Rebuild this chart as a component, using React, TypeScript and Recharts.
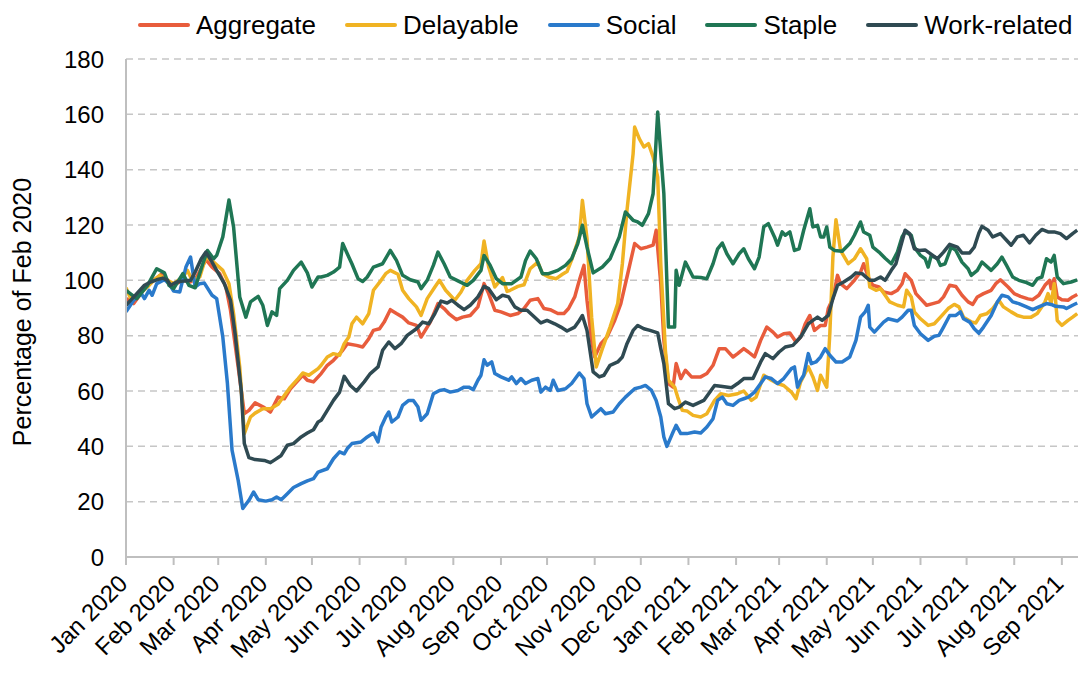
import React from "react";
import { LineChart, Line, XAxis, YAxis, CartesianGrid, Legend } from "recharts";

// [day since 1 Jan 2020, % of Feb 2020]
type Pt = [number, number];

const aggregate: Pt[] = [
  [0, 93.4], [5, 91.6], [12, 97], [18, 100], [23, 102.2], [27, 100], [31, 98.2], [37, 100], [42, 99.4],
  [46, 101.2], [52, 107.5], [56, 104.8], [61, 102.4], [65, 97.6], [68, 89.2], [73, 68.7], [77, 51.8],
  [80, 53], [84, 55.7], [90, 54], [94, 52.4], [99, 57.8], [103, 57.2], [107, 60.8], [112, 63.9],
  [115, 65.7], [118, 63.9], [122, 63.3], [127, 66.3], [131, 69.3], [135, 71.1], [141, 74.7], [144, 77.1],
  [150, 76.5], [154, 75.9], [158, 78.9], [161, 81.9], [165, 82.5], [168, 84.9], [172, 89.4], [176, 88],
  [180, 86.7], [184, 84.6], [189, 83.7], [192, 79.5], [195, 82.2], [198, 84.9], [203, 91.6], [207, 89.8],
  [210, 88], [215, 85.8], [219, 86.7], [224, 87.3], [229, 90.4], [233, 98.8], [236, 95.2], [240, 89.2],
  [244, 88.6], [250, 87.3], [255, 88], [259, 89.8], [263, 92.8], [268, 93.4], [272, 89.8], [276, 89.4],
  [281, 88], [285, 88], [288, 89.8], [292, 94], [295, 100], [298, 105.4], [300, 92.8], [303, 78.3],
  [305, 72.3], [309, 77.1], [313, 79.5], [318, 85.5], [322, 91.6], [326, 101.2], [331, 113.3], [335, 111.4],
  [339, 112], [343, 112.7], [345, 118.1], [348, 98.8], [350, 78.3], [353, 62.7], [356, 61.4], [358, 69.9],
  [361, 64.5], [364, 67.5], [368, 65.1], [374, 65.1], [378, 66.3], [382, 69.3], [386, 75.3], [390, 75.3],
  [395, 72.3], [398, 73.5], [402, 75.3], [405, 74.1], [409, 72.3], [413, 78.3], [417, 83.1], [421, 81.3],
  [424, 79.5], [428, 80.7], [432, 81], [436, 77.7], [439, 79.5], [442, 84.3], [445, 87.3], [448, 81.9],
  [452, 83.7], [455, 83.7], [457, 89.8], [460, 93.4], [463, 101.8], [465, 98.8], [469, 97], [474, 100],
  [478, 103], [480, 106], [483, 101.2], [486, 98.2], [490, 97.6], [493, 95.8], [498, 95.2], [502, 96.4],
  [505, 98.8], [507, 102.4], [511, 100], [514, 95.2], [517, 93.4], [521, 91], [525, 91.6], [529, 92.2],
  [532, 94], [536, 98.2], [540, 97.8], [544, 94.6], [548, 92.2], [551, 91.3], [554, 94], [558, 95.2],
  [563, 96.4], [566, 98.8], [569, 100.2], [574, 97.6], [578, 95.2], [582, 94.2], [587, 93.3], [590, 93],
  [594, 94.6], [598, 98.2], [601, 100], [602, 97], [604, 100.6], [606, 94], [609, 93], [613, 92.8],
  [616, 94], [619, 94.9],
];

const delayable: Pt[] = [
  [0, 97.3], [3, 93.4], [9, 95.2], [14, 97.6], [18, 100], [22, 101.8], [27, 100], [31, 98.8], [37, 101.2],
  [40, 103.6], [43, 100], [48, 101.2], [52, 108.4], [57, 106.6], [63, 103.6], [67, 98.8], [70, 88],
  [74, 68.7], [77, 44.6], [81, 50.6], [84, 52], [89, 53.6], [94, 53.6], [99, 55.2], [103, 58.4],
  [107, 61.4], [112, 64.5], [115, 66.5], [119, 65.7], [125, 68.1], [127, 69.3], [131, 72.3], [135, 73.5],
  [139, 72.9], [142, 77.1], [145, 79.5], [147, 84.3], [150, 86.7], [154, 84.3], [158, 88], [161, 96.4],
  [166, 100], [169, 102.4], [172, 103.6], [177, 102.2], [180, 96.4], [184, 93.4], [189, 90.4], [192, 87.3],
  [196, 93.4], [201, 97.6], [204, 100], [208, 96.4], [214, 92.8], [218, 95.8], [222, 100], [227, 103.6],
  [231, 106], [233, 114.2], [236, 104.8], [240, 97.6], [245, 101], [248, 96], [250, 96.4], [255, 97.8],
  [259, 98.4], [263, 104.2], [268, 106.6], [271, 102.4], [275, 101.2], [280, 100.6], [284, 102.2],
  [287, 103.2], [290, 107.4], [295, 115.7], [297, 128.9], [300, 115], [303, 86.7], [306, 68.7], [310, 75.3],
  [315, 83.1], [320, 91.6], [323, 106], [326, 125.3], [330, 145.8], [331, 155.4], [334, 151.2], [337, 148.2],
  [340, 149.4], [343, 144.6], [346, 137.3], [348, 106], [351, 74.7], [353, 63.9], [357, 61.4], [359, 57.8],
  [362, 53], [365, 52.8], [369, 51.2], [374, 50.6], [378, 51.8], [383, 56.6], [387, 59], [392, 58.4],
  [398, 59], [402, 60], [407, 56.6], [410, 57.8], [415, 65.7], [420, 63.9], [424, 62.7], [428, 62],
  [433, 59.6], [436, 57.2], [439, 63.3], [444, 68.7], [447, 65.1], [450, 60.2], [452, 65.7], [456, 61.4],
  [458, 80.7], [460, 108.4], [462, 121.9], [465, 110.8], [470, 106], [474, 107.8], [478, 111.4],
  [482, 107.8], [484, 97.6], [488, 96.4], [491, 97], [494, 94.6], [497, 92.2], [502, 91], [506, 90.4],
  [508, 96.4], [511, 94], [513, 88.6], [517, 86.1], [522, 83.7], [526, 84.3], [530, 86.7], [535, 89.8],
  [539, 91.3], [542, 90.4], [545, 86.7], [550, 85], [553, 84.6], [556, 87.3], [560, 87.9], [564, 89.8],
  [568, 92.8], [571, 90.4], [576, 88.6], [580, 87.3], [584, 86.7], [589, 86.7], [593, 88], [598, 92.2],
  [600, 95.2], [602, 91.6], [604, 98.8], [606, 85.5], [609, 83.7], [613, 85.5], [616, 86.7], [619, 88],
];

const social: Pt[] = [
  [0, 88.6], [5, 92.8], [10, 95.2], [12, 93.4], [15, 96.4], [17, 94.6], [20, 98.8], [25, 100.2], [28, 98.8],
  [31, 96.1], [35, 95.8], [39, 104.8], [42, 108.4], [45, 97.6], [48, 98.8], [51, 99], [56, 94.6],
  [59, 93.4], [63, 79.5], [66, 62.7], [69, 38.6], [73, 27.7], [76, 17.5], [80, 20.5], [83, 23.5],
  [86, 20.7], [91, 20.2], [95, 20.7], [98, 21.7], [101, 20.7], [105, 22.9], [109, 25.1], [114, 26.5],
  [118, 27.5], [122, 28.3], [125, 30.7], [131, 31.9], [135, 35.5], [139, 38], [142, 37.3], [144, 39.2],
  [147, 41], [153, 41.6], [157, 43.4], [161, 44.8], [164, 41.6], [166, 47], [169, 50.6], [171, 52.4],
  [173, 48.8], [177, 50.6], [180, 54.8], [184, 56.6], [187, 56.6], [190, 54.2], [192, 49.4], [196, 51.8],
  [200, 59], [204, 60.2], [207, 60.5], [211, 59.6], [216, 60.2], [220, 61.4], [223, 61.4], [226, 60.5],
  [229, 63.9], [231, 65.7], [233, 71.3], [235, 69.3], [238, 70.5], [240, 66.3], [244, 65.1], [249, 63.9],
  [251, 65.1], [254, 62.7], [257, 64.5], [260, 62.7], [264, 63.9], [268, 64.5], [270, 59.6], [273, 61.4],
  [276, 60.2], [278, 63.9], [281, 60.2], [286, 60.8], [290, 62.7], [295, 66.5], [298, 64.5], [300, 55.4],
  [303, 50.6], [309, 53.6], [312, 51.8], [317, 52.4], [321, 55.4], [325, 57.8], [331, 60.8], [335, 61.4],
  [338, 62], [342, 60.2], [345, 56.6], [348, 50.6], [350, 43.4], [352, 40], [356, 45.2], [358, 47.6],
  [361, 44.6], [365, 44.6], [370, 45.2], [374, 44.8], [378, 47], [382, 50], [385, 56.6], [388, 57.8],
  [391, 55.4], [395, 54.8], [399, 56.6], [402, 57.2], [405, 57.8], [409, 59.6], [413, 62.7], [416, 65.1],
  [420, 64.5], [424, 62.7], [428, 64.5], [433, 68.1], [435, 68.7], [437, 61.4], [439, 63.9], [441, 65.7],
  [444, 73.5], [446, 69.9], [449, 70.5], [452, 72.3], [455, 75.3], [458, 72.9], [462, 70.5], [466, 70.5],
  [471, 72.3], [475, 78.3], [478, 86.7], [481, 88.6], [483, 91], [484, 83.1], [487, 81.3], [490, 83.1],
  [493, 84.9], [496, 86.1], [502, 85.3], [505, 86.7], [509, 89.2], [511, 89.2], [513, 83.7], [517, 80.7],
  [522, 78.3], [526, 79.8], [529, 80.1], [532, 83.1], [536, 87.3], [540, 87.3], [543, 88.6], [545, 86.1],
  [549, 84.9], [552, 82.5], [555, 80.9], [558, 83.1], [563, 87.3], [567, 92.2], [570, 94.6], [574, 94],
  [577, 92.2], [581, 91.6], [586, 90.4], [590, 89.4], [594, 90.4], [599, 91.6], [602, 91.3], [605, 90.6],
  [610, 90.4], [612, 89.8], [616, 91], [619, 91.8],
];

const staple: Pt[] = [
  [0, 96.4], [7, 93.4], [14, 98.2], [20, 104.2], [25, 102.7], [28, 98.2], [31, 97], [37, 102.4], [41, 98.2],
  [45, 97.3], [50, 106], [53, 110.8], [57, 107.8], [59, 109], [63, 115.7], [67, 129], [70, 119.3], [74, 94],
  [78, 86.7], [81, 92.2], [86, 94.2], [89, 91], [92, 83.7], [95, 88.6], [98, 87.3], [100, 97], [105, 100],
  [109, 103.6], [114, 106.6], [118, 102.7], [121, 97.6], [125, 101.2], [127, 101.2], [131, 101.8],
  [135, 103], [139, 104.8], [141, 113.3], [144, 109.6], [147, 106], [151, 100.6], [154, 99.6], [157, 101.2],
  [161, 104.8], [167, 106], [172, 110.8], [176, 107.2], [180, 101.8], [185, 100.2], [190, 99.4], [192, 97],
  [196, 100], [200, 105.4], [203, 110.2], [207, 106], [211, 101.2], [216, 99.8], [222, 98.2], [226, 100],
  [231, 103.6], [233, 109], [237, 105.4], [241, 100.6], [245, 98.8], [251, 98.8], [257, 101.2], [260, 107.2],
  [263, 110.6], [267, 107.8], [271, 102.4], [275, 102.4], [281, 103.6], [286, 105.4], [290, 107.8],
  [294, 113.3], [297, 119.9], [300, 112], [304, 102.7], [310, 104.8], [315, 107.8], [321, 115.7],
  [325, 124.7], [330, 121.7], [333, 121.1], [336, 119.9], [340, 124.1], [343, 131.3], [346, 160.8],
  [350, 131.3], [353, 83.1], [357, 83.1], [358, 103.6], [360, 98.2], [364, 106.6], [369, 101.2], [374, 101],
  [378, 100.6], [382, 106], [385, 111.4], [388, 113.5], [391, 109.6], [395, 106], [399, 109.6], [402, 111.4],
  [405, 107.8], [409, 104.2], [412, 108.4], [415, 119.3], [418, 120.5], [422, 115.7], [424, 112.7],
  [427, 117.5], [429, 116.3], [432, 117.5], [435, 110.8], [438, 111.4], [441, 118.1], [445, 125.9],
  [447, 119.3], [450, 119.9], [452, 115.7], [454, 115.7], [456, 119.3], [458, 112], [461, 110.8],
  [466, 110.5], [471, 113.3], [474, 116.3], [478, 121.1], [480, 117.5], [484, 116.3], [486, 112],
  [490, 110.2], [494, 108], [498, 106], [502, 110.2], [505, 115.7], [507, 117.5], [511, 116.3], [513, 112],
  [517, 109], [520, 107.8], [522, 104.8], [524, 109], [528, 107.8], [530, 105.4], [533, 106], [537, 112],
  [540, 110.8], [544, 106.6], [548, 104.2], [550, 101.8], [554, 103.6], [557, 106.6], [563, 103.6],
  [567, 106], [570, 108.4], [573, 105.4], [577, 101.2], [581, 100], [586, 99.2], [590, 98.2], [593, 100.6],
  [596, 101.2], [599, 107.8], [602, 106.6], [604, 109], [606, 101.2], [610, 98.8], [615, 99.4], [619, 100.2],
];

const workRelated: Pt[] = [
  [0, 91], [7, 95.2], [12, 98.2], [16, 99.4], [20, 100.2], [24, 100.8], [27, 100], [29, 98.2], [33, 99.4],
  [38, 99.8], [42, 100], [45, 103], [49, 107.8], [52, 110.2], [56, 106.6], [59, 103.6], [64, 98.8],
  [68, 92.8], [71, 80.7], [75, 60.2], [77, 41], [80, 35.9], [84, 35.2], [90, 34.9], [94, 34.1], [97, 35.2],
  [101, 36.7], [105, 40.4], [109, 41], [114, 43.4], [118, 44.8], [122, 46], [125, 48.8], [127, 49.4],
  [131, 53], [135, 56.6], [139, 59.6], [142, 65.3], [146, 62], [150, 60], [155, 63.3], [159, 66.3],
  [164, 68.7], [167, 74.7], [171, 77.7], [175, 75.3], [179, 77.1], [183, 80.1], [189, 82.5], [193, 84.9],
  [197, 84.3], [201, 88], [205, 92.5], [209, 91.8], [212, 92.8], [216, 91], [220, 89.4], [224, 91],
  [229, 94], [233, 97.8], [236, 97], [241, 93], [245, 94.6], [249, 94], [253, 90.4], [257, 89.2],
  [261, 89.2], [267, 86.1], [270, 84.6], [274, 85.5], [279, 84.3], [283, 83.1], [287, 81.7], [292, 83.1],
  [295, 85.5], [297, 87.3], [300, 81.9], [304, 66.9], [308, 65.1], [311, 65.7], [315, 69.3], [320, 70.5],
  [323, 72.3], [326, 77.1], [330, 81.9], [333, 83.7], [337, 82.5], [341, 81.9], [346, 81], [348, 75.3],
  [350, 69.9], [353, 55.4], [357, 53.6], [360, 54.2], [364, 56], [369, 54.8], [376, 56.6], [383, 62],
  [387, 61.7], [394, 61.2], [398, 62.7], [402, 64.5], [408, 64.5], [413, 70.5], [416, 73.5], [421, 71.7],
  [425, 74.1], [429, 75.9], [434, 76.5], [439, 79.5], [444, 84.3], [447, 85.5], [450, 86.7], [453, 85.5],
  [457, 87.3], [460, 93.4], [463, 98.2], [467, 99.4], [472, 101.2], [475, 102.7], [479, 102.4], [484, 100],
  [487, 100], [491, 101.2], [494, 100], [498, 103.6], [501, 106], [504, 112], [507, 118.1], [510, 116.9],
  [513, 111.4], [516, 110.8], [520, 111], [525, 109], [528, 107.8], [532, 110.2], [536, 113], [541, 112],
  [544, 109.9], [549, 109.9], [552, 112], [555, 117.1], [557, 119.5], [561, 118.1], [564, 115.7],
  [569, 116.9], [573, 114.5], [576, 112.7], [580, 115.7], [584, 116.3], [588, 113.5], [592, 116.3],
  [596, 118.4], [600, 117.5], [604, 117.5], [608, 116.9], [612, 115.1], [616, 116.9], [619, 118.1],
];

const monthTicks = [0, 31, 60, 91, 121, 152, 182, 213, 244, 274, 305, 335, 366, 397, 425, 456, 486, 517, 547, 578, 609];
const monthLabels = [
  "Jan 2020", "Feb 2020", "Mar 2020", "Apr 2020", "May 2020", "Jun 2020", "Jul 2020", "Aug 2020",
  "Sep 2020", "Oct 2020", "Nov 2020", "Dec 2020", "Jan 2021", "Feb 2021", "Mar 2021", "Apr 2021",
  "May 2021", "Jun 2021", "Jul 2021", "Aug 2021", "Sep 2021",
];
const yTicks = [0, 20, 40, 60, 80, 100, 120, 140, 160, 180];

const SERIES = [
  { name: "Aggregate", color: "#e85c3c", points: aggregate },
  { name: "Delayable", color: "#f0b323", points: delayable },
  { name: "Social", color: "#2a7acb", points: social },
  { name: "Staple", color: "#1f7654", points: staple },
  { name: "Work-related", color: "#2f4a52", points: workRelated },
];

const FONT = '"Liberation Sans", Arial, sans-serif';
const AXIS_GREY = "#bfbfbf";

const toRows = (pts: Pt[]) => pts.map(([day, value]) => ({ day, value }));

function MonthTick({ x, y, payload }: any) {
  const i = monthTicks.indexOf(payload.value);
  return (
    <g transform={`translate(${x + 3},${y + 20}) rotate(-45)`}>
      <text x={0} y={0} textAnchor="end" fontSize={24} fontFamily={FONT} fill="#000">
        {monthLabels[i]}
      </text>
    </g>
  );
}

function YTitle(props: any) {
  const vb = props.viewBox || { x: 0, y: 0, width: 0, height: 0 };
  const cx = vb.x + 22;
  const cy = vb.y + vb.height / 2 + 4;
  return (
    <text
      x={cx}
      y={cy}
      transform={`rotate(-90, ${cx}, ${cy})`}
      textAnchor="middle"
      dominantBaseline="central"
      fontSize={25}
      fontFamily={FONT}
      fill="#000"
    >
      Percentage of Feb 2020
    </text>
  );
}

function LegendRow({ payload }: any) {
  return (
    <div
      style={{
        display: "flex",
        alignItems: "center",
        whiteSpace: "nowrap",
        fontFamily: FONT,
        fontSize: 26,
        lineHeight: "30px",
        color: "#000",
      }}
    >
      {(payload || []).map((p: any) => (
        <div key={p.value} style={{ display: "flex", alignItems: "center", marginRight: 29, flexShrink: 0 }}>
          <span
            style={{ display: "inline-block", width: 52, height: 4, borderRadius: 2, background: p.color, marginRight: 6 }}
          />
          <span>{p.value}</span>
        </div>
      ))}
    </div>
  );
}

export default function App() {
  return (
    <div style={{ width: 1081, height: 675, background: "#fff" }}>
      <style>{"body{margin:0}"}</style>
      <LineChart width={1081} height={675} margin={{ top: 59, right: 3, bottom: 8, left: 0 }}>
        <CartesianGrid
          vertical={false}
          stroke="#c6c6c6"
          strokeWidth={1.5}
          strokeDasharray="7 5"
        />
        <XAxis
          type="number"
          dataKey="day"
          domain={[0, 619.5]}
          ticks={monthTicks}
          interval={0}
          allowDataOverflow
          height={110}
          tickSize={8}
          tickMargin={0}
          stroke={AXIS_GREY}
          axisLine={{ stroke: AXIS_GREY, strokeWidth: 2 }}
          tickLine={{ stroke: AXIS_GREY, strokeWidth: 2 }}
          tick={<MonthTick />}
        />
        <YAxis
          type="number"
          domain={[0, 180]}
          ticks={yTicks}
          interval={0}
          width={126}
          tickLine={false}
          tickSize={6}
          tickMargin={16}
          axisLine={{ stroke: AXIS_GREY, strokeWidth: 2 }}
          tick={{ fontSize: 24, fontFamily: FONT, fill: "#000" }}
          label={YTitle}
        />
        <Legend
          verticalAlign="middle"
          layout="horizontal"
          wrapperStyle={{ top: 10, left: 138, width: 943, height: 30 }}
          content={<LegendRow />}
        />
        {SERIES.map((s) => (
          <Line
            key={s.name}
            name={s.name}
            data={toRows(s.points)}
            dataKey="value"
            type="linear"
            stroke={s.color}
            strokeWidth={3.5}
            strokeLinejoin="round"
            dot={false}
            activeDot={false}
            isAnimationActive={false}
          />
        ))}
      </LineChart>
    </div>
  );
}
